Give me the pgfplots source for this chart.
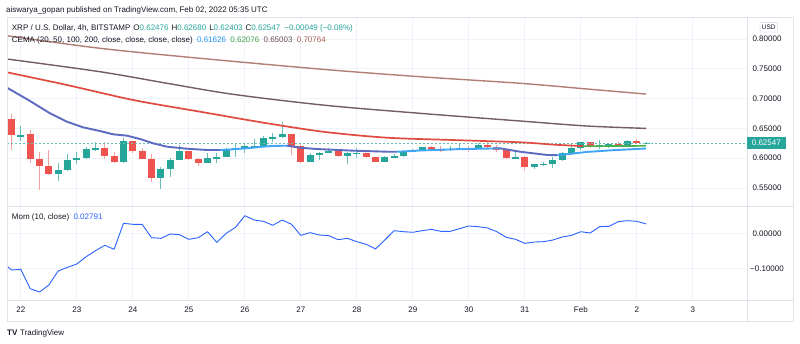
\documentclass[border=0pt]{standalone}
\usepackage{pgfplots}
\pgfplotsset{compat=1.18}
\usepackage{pgfplotstable}
\usepackage{fontspec}
\setmainfont{Liberation Sans}
\definecolor{tvgreen}{HTML}{26A69A}
\definecolor{tvred}{HTML}{EF5350}
\definecolor{tvtext}{HTML}{131722}
\definecolor{tvgrid}{HTML}{F0F3FA}
\definecolor{tvframe}{HTML}{E0E3EB}
\definecolor{emaA}{HTML}{5C6BC0}
\definecolor{emaAup}{HTML}{42A5F5}
\definecolor{emaB}{HTML}{E04A3F}
\definecolor{emaBup}{HTML}{4CAF50}
\definecolor{emaC}{HTML}{735C63}
\definecolor{emaD}{HTML}{B07E72}
\definecolor{momblue}{HTML}{2962FF}
\definecolor{valblue}{HTML}{2196F3}
\definecolor{valgreen}{HTML}{3FA34D}
\definecolor{valC}{HTML}{6B4F4F}
\definecolor{valD}{HTML}{A65D50}

\pgfplotstableread{
i O H L C
1 0.6361 0.6540 0.6294 0.6394
5 0.5730 0.5924 0.5622 0.5797
6 0.5797 0.6070 0.5780 0.5969
7 0.5969 0.6099 0.5907 0.5998
8 0.5998 0.6193 0.5981 0.6154
9 0.6154 0.6272 0.6126 0.6166
12 0.5931 0.6343 0.5925 0.6283
16 0.5673 0.5847 0.5488 0.5824
17 0.5824 0.6008 0.5690 0.5974
18 0.5974 0.6216 0.5970 0.6120
21 0.5924 0.6092 0.5920 0.6003
22 0.6003 0.6082 0.5924 0.6020
23 0.6020 0.6176 0.6015 0.6138
24 0.6138 0.6250 0.6025 0.6166
25 0.6166 0.6250 0.6082 0.6199
26 0.6199 0.6317 0.6195 0.6205
27 0.6205 0.6372 0.6200 0.6334
28 0.6334 0.6423 0.6272 0.6351
29 0.6351 0.6607 0.6345 0.6401
32 0.5936 0.6082 0.5930 0.6048
33 0.6048 0.6109 0.5969 0.6087
34 0.6087 0.6166 0.6082 0.6120
36 0.6042 0.6109 0.5897 0.6082
37 0.6082 0.6166 0.5998 0.6092
40 0.5941 0.6037 0.5931 0.6015
41 0.6015 0.6065 0.6008 0.6042
42 0.6042 0.6132 0.6025 0.6109
43 0.6109 0.6154 0.6099 0.6138
44 0.6138 0.6193 0.6130 0.6183
47 0.6138 0.6205 0.6115 0.6160
48 0.6160 0.6260 0.6155 0.6166
50 0.6154 0.6250 0.6150 0.6221
54 0.5998 0.6099 0.5990 0.6025
56 0.5857 0.5907 0.5813 0.5897
57 0.5897 0.5941 0.5873 0.5907
58 0.5907 0.6025 0.5840 0.5969
59 0.5969 0.6109 0.5958 0.6079
60 0.6079 0.6260 0.6053 0.6176
61 0.6176 0.6277 0.6138 0.6267
63 0.6183 0.6305 0.6154 0.6221
64 0.6221 0.6260 0.6176 0.6233
66 0.6221 0.6305 0.6210 0.6288
68 0.62476 0.62680 0.62403 0.62547
}\greentab

\pgfplotstableread{
i O H L C
0 0.6658 0.6742 0.6138 0.6384
2 0.6406 0.6473 0.5914 0.5992
3 0.5992 0.6109 0.5466 0.5873
4 0.5873 0.6138 0.5718 0.5730
10 0.6166 0.6267 0.5986 0.6042
11 0.6042 0.6099 0.5914 0.5931
13 0.6283 0.6290 0.6082 0.6126
14 0.6126 0.6166 0.5986 0.5986
15 0.5986 0.6070 0.5595 0.5673
19 0.6120 0.6125 0.5969 0.5992
20 0.5992 0.5995 0.5873 0.5924
30 0.6401 0.6405 0.6053 0.6205
31 0.6205 0.6243 0.5914 0.5936
35 0.6120 0.6138 0.6025 0.6042
38 0.6092 0.6095 0.6008 0.6025
39 0.6025 0.6028 0.5931 0.5941
45 0.6183 0.6205 0.6138 0.6149
46 0.6149 0.6210 0.6109 0.6138
49 0.6166 0.6210 0.6099 0.6154
51 0.6221 0.6267 0.6166 0.6193
52 0.6193 0.6221 0.6109 0.6138
53 0.6138 0.6145 0.5986 0.5998
55 0.6025 0.6030 0.5802 0.5857
62 0.6267 0.6272 0.6166 0.6183
65 0.6233 0.6277 0.6205 0.6221
67 0.6288 0.6322 0.6243 0.6255
}\redtab

\pgfplotstableread{
i v
-1 -0.081
0 -0.1037
1 -0.1018
2 -0.1570
3 -0.1666
4 -0.1466
5 -0.1066
6 -0.0961
7 -0.0866
8 -0.0657
9 -0.0486
10 -0.0332
11 -0.0446
12 0.0297
13 0.0268
14 0.0268
15 -0.0114
16 -0.0133
17 -0.0009
18 -0.0028
19 -0.0161
20 -0.0114
21 0.0057
22 -0.0247
23 0.0010
24 0.0181
25 0.0514
26 0.0391
27 0.0353
28 0.0240
29 0.0391
30 0.0268
31 -0.0048
32 0.0029
33 -0.0038
34 -0.0057
35 -0.0171
36 -0.0133
37 -0.0228
38 -0.0304
39 -0.0437
40 -0.0181
41 0.0086
42 0.0057
43 0.0040
44 0.0086
45 0.0124
46 0.0067
47 0.0067
48 0.0143
49 0.0220
50 0.0200
51 0.0163
52 0.0057
53 -0.0104
54 -0.0161
55 -0.0276
56 -0.0238
57 -0.0228
58 -0.0181
59 -0.0095
60 -0.0048
61 0.0057
62 0.0020
63 0.0200
64 0.0210
65 0.0343
66 0.0372
67 0.0353
68 0.0279
}\momtab

\newcommand{\fs}{\fontsize{8}{9.6}\selectfont}
\pgfplotsset{candle/.style={only marks, mark=*, mark size=0pt,
  mark options={draw=none, fill=none}}}

\begin{document}
\begin{tikzpicture}[x=1pt,y=1pt]
\useasboundingbox (0,0) rectangle (800,343);
\fill[white] (0,0) rectangle (800,343);

% ---------------- main pane ----------------
\begin{axis}[
  at={(7pt,137pt)}, anchor=south west,
  width=740pt, height=189pt, scale only axis,
  xmin=-0.48, xmax=78.8,
  ymin=0.5198, ymax=0.8369,
  axis line style={draw=none},
  major tick length=0pt,
  xtick={1,7,...,73}, xticklabels={},
  ytick={0.55,0.6,0.65,0.7,0.75,0.8},
  yticklabels={0.55000,0.60000,0.65000,0.70000,0.75000,0.80000},
  yticklabel pos=right,
  y tick label style={anchor=center, xshift=20pt, font=\fs, text=tvtext},
  grid=major, grid style={tvgrid, line width=0.8pt},
]
% wicks
\addplot[candle, error bars/.cd, y dir=both, y explicit, error mark=none,
  error bar style={line width=1pt, color=tvgreen!70}]
  table[x=i, y expr={(\thisrow{H}+\thisrow{L})/2}, y error expr={(\thisrow{H}-\thisrow{L})/2}] {\greentab};
\addplot[candle, error bars/.cd, y dir=both, y explicit, error mark=none,
  error bar style={line width=1pt, color=tvred!55}]
  table[x=i, y expr={(\thisrow{H}+\thisrow{L})/2}, y error expr={(\thisrow{H}-\thisrow{L})/2}] {\redtab};
% bodies
\addplot[candle, error bars/.cd, y dir=both, y explicit, error mark=none,
  error bar style={line width=7pt, color=tvgreen}]
  table[x=i, y expr={(\thisrow{O}+\thisrow{C})/2}, y error expr={max(abs(\thisrow{C}-\thisrow{O})/2,0.0005)}] {\greentab};
\addplot[candle, error bars/.cd, y dir=both, y explicit, error mark=none,
  error bar style={line width=7pt, color=tvred}]
  table[x=i, y expr={(\thisrow{O}+\thisrow{C})/2}, y error expr={max(abs(\thisrow{C}-\thisrow{O})/2,0.0005)}] {\redtab};
% last price line
\addplot[tvgreen!70, line width=0.6pt, dash pattern=on 2pt off 2pt] coordinates {(-0.48,0.62547) (78.8,0.62547)};
% EMA 200
\addplot[emaD, line width=1.4pt, smooth] coordinates {
(-0.48,0.8055) (9.48,0.7844) (20.20,0.7676) (33.59,0.7488) (43.77,0.7367) (54.48,0.7257) (61.66,0.7161) (68,0.7076)};
% EMA 100
\addplot[emaC, line width=1.4pt, smooth] coordinates {
(-0.48,0.7664) (9.48,0.7451) (16.66,0.7257) (23.73,0.7072) (33.59,0.6888) (43.77,0.6753) (54.48,0.6624) (61.66,0.6540) (68,0.6500)};
% EMA 50
\addplot[emaB, line width=1.7pt, smooth] coordinates {
(-0.48,0.7441) (5.95,0.7228) (13.02,0.6977) (20.20,0.6780) (27.38,0.6586) (33.59,0.6440) (40.23,0.6344) (47.30,0.6305) (54.48,0.6267) (58.02,0.6228) (61.23,0.6202)};
\addplot[emaBup, line width=1.7pt] coordinates {(61.23,0.6202) (64,0.6203) (68,0.62076)};
% EMA 20
\addplot[emaA, line width=1.9pt, line join=round] coordinates {
(-0.48,0.7183) (1.80,0.6977) (4.13,0.6753) (5.95,0.6612) (7.66,0.6518) (9.48,0.6456) (10.88,0.6401) (12.38,0.6378) (13.77,0.6322) (15.16,0.6250) (16.66,0.6193) (18.80,0.6159) (20.95,0.6138) (22.34,0.6138)};
\addplot[emaAup, line width=1.9pt, line join=round] coordinates {
(22.34,0.6138) (23.73,0.6149) (25.88,0.6176) (27.38,0.6200) (28.02,0.6205) (29.52,0.6210)};
\addplot[emaA, line width=1.9pt, line join=round] coordinates {
(29.52,0.6210) (30.91,0.6176) (32.73,0.6154) (36.59,0.6126) (40.23,0.6109) (41.30,0.6108)};
\addplot[emaAup, line width=1.9pt, line join=round] coordinates {
(41.30,0.6108) (43.77,0.6129) (47.30,0.6149) (52.34,0.6166)};
\addplot[emaA, line width=1.9pt, line join=round] coordinates {
(52.34,0.6166) (54.48,0.6109) (57.38,0.6054) (58.5,0.6050)};
\addplot[emaAup, line width=1.9pt, line join=round] coordinates {
(58.5,0.6050) (61.66,0.6105) (64.5,0.6135) (68,0.61626)};
\end{axis}

% ---------------- momentum pane ----------------
\begin{axis}[
  at={(7pt,43pt)}, anchor=south west,
  width=740pt, height=94pt, scale only axis,
  xmin=-0.48, xmax=78.8,
  ymin=-0.1894, ymax=0.0791,
  axis line style={draw=none},
  major tick length=0pt,
  xtick={1,7,...,73},
  xticklabels={22,23,24,25,26,27,28,29,30,31,Feb,2,3},
  x tick label style={anchor=center, yshift=-10pt, font=\fs, text=tvtext},
  ytick={-0.1,0},
  yticklabels={−0.10000,0.00000},
  yticklabel pos=right,
  y tick label style={anchor=center, xshift=20pt, font=\fs, text=tvtext},
  grid=major, grid style={tvgrid, line width=0.8pt},
]
\addplot[momblue, line width=0.9pt, line join=round] table[x=i, y=v] {\momtab};
\end{axis}

% ---------------- frame ----------------
\draw[tvframe, line width=0.8pt] (7,22) rectangle (793,326);
\draw[tvframe, line width=0.8pt] (747,22) -- (747,326);
\draw[tvframe, line width=0.8pt] (7,137) -- (793,137);
\draw[tvframe, line width=0.8pt] (7,43) -- (793,43);

% price label
\fill[tvgreen] (746.7,193.7) rectangle (786,206.3);
\node[font=\fs, text=white, inner sep=0pt] at (766.3,200) {0.62547};
% USD box
\draw[tvframe, line width=0.6pt, fill=white, rounded corners=1.5pt] (760,311) rectangle (777.5,320.5);
\node[font=\fontsize{6.5}{7}\selectfont, text=tvtext, inner sep=0pt] at (768.7,315.7) {USD};

% texts
\node[anchor=base west, inner sep=0pt, font=\fs, text=tvtext] at (6,330) {aiswarya\_gopan published on TradingView.com, Feb 02, 2022 05:35 UTC};
\node[anchor=base west, inner sep=0pt, font=\fs, text=tvtext] at (11.7,312) {XRP / U.S. Dollar, 4h, BITSTAMP\hspace{3pt}O\textcolor{tvgreen}{0.62476}\hspace{3pt}H\textcolor{tvgreen}{0.62680}\hspace{3pt}L\textcolor{tvgreen}{0.62403}\hspace{3pt}C\textcolor{tvgreen}{0.62547}\hspace{4pt}\textcolor{tvgreen}{−0.00049 (−0.08\%)}};
\node[anchor=base west, inner sep=0pt, font=\fs, text=tvtext] at (11.7,300) {CEMA (20, 50, 100, 200, close, close, close, close)\hspace{4.3pt}\textcolor{valblue}{0.61626}\hspace{4.3pt}\textcolor{valgreen}{0.62076}\hspace{4.3pt}\textcolor{valC}{0.65003}\hspace{4.3pt}\textcolor{valD}{0.70764}};
\node[anchor=base west, inner sep=0pt, font=\fs, text=tvtext] at (11.7,124) {Mom (10, close)\hspace{4.3pt}\textcolor{momblue}{0.02791}};
\node[anchor=base west, inner sep=0pt, font=\fontsize{8}{9}\selectfont\bfseries, text=tvtext] at (7,8) {TV};
\node[anchor=base west, inner sep=0pt, font=\fs, text=tvtext] at (20,8) {TradingView};
\end{tikzpicture}
\end{document}
